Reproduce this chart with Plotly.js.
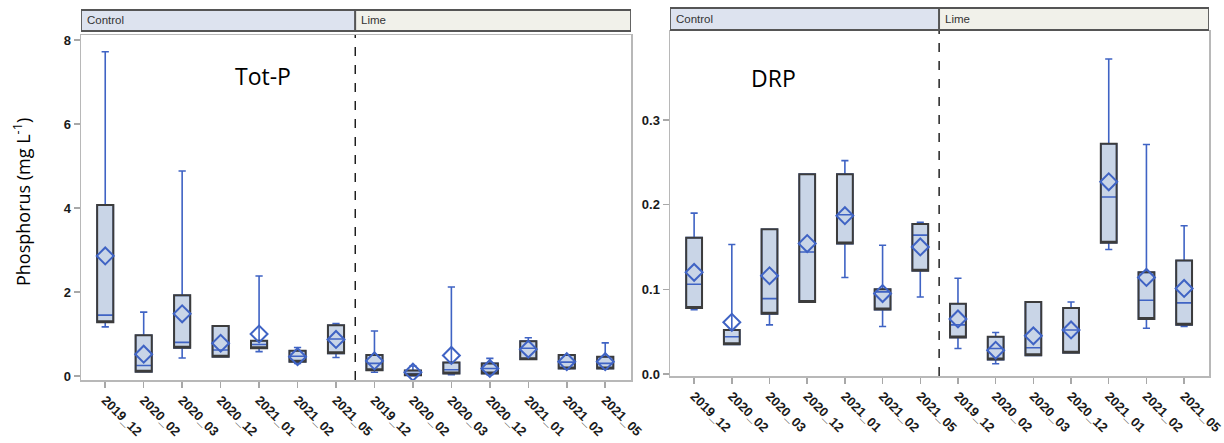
<!DOCTYPE html>
<html>
<head>
<meta charset="utf-8">
<script src="https://cdn.plot.ly/plotly-3.0.1.min.js"></script>
<style>
html,body{margin:0;padding:0;background:#fff;}
#chart{width:1224px;height:443px;}
</style>
</head>
<body>
<div id="chart"></div>
<script>
// ---- Data ----
var dates = ["2019_12","2020_02","2020_03","2020_12","2021_01","2021_02","2021_05"];
var treatments = ["Control","Lime"];

// Tot-P (mg L-1): Control then Lime
var totp_lower  = [1.17, 0.10, 0.43, 0.46, 0.58, 0.30, 0.44,   0.09, 0.00, 0.03, 0.03, 0.40, 0.17, 0.16];
var totp_q1     = [1.28, 0.10, 0.67, 0.46, 0.66, 0.34, 0.54,   0.14, 0.02, 0.06, 0.06, 0.40, 0.18, 0.18];
var totp_median = [1.45, 0.25, 0.80, 0.62, 0.75, 0.47, 0.88,   0.30, 0.06, 0.15, 0.18, 0.66, 0.33, 0.30];
var totp_q3     = [4.07, 0.97, 1.92, 1.19, 0.84, 0.60, 1.21,   0.50, 0.13, 0.32, 0.30, 0.83, 0.50, 0.46];
var totp_upper  = [7.72, 1.52, 4.88, 1.19, 2.38, 0.68, 1.25,   1.07, 0.24, 2.12, 0.42, 0.91, 0.50, 0.79];
var totp_mean   = [2.86, 0.52, 1.48, 0.78, 1.00, 0.46, 0.87,   0.36, 0.09, 0.49, 0.18, 0.64, 0.34, 0.34];

// DRP (mg L-1): Control then Lime
var drp_lower  = [0.076, 0.035, 0.058, 0.085, 0.114, 0.056, 0.091,   0.030, 0.012, 0.022, 0.025, 0.147, 0.054, 0.056];
var drp_q1     = [0.078, 0.035, 0.071, 0.085, 0.154, 0.076, 0.122,   0.043, 0.017, 0.022, 0.025, 0.155, 0.065, 0.058];
var drp_median = [0.106, 0.044, 0.089, 0.144, 0.188, 0.097, 0.164,   0.058, 0.030, 0.031, 0.052, 0.209, 0.087, 0.084];
var drp_q3     = [0.161, 0.052, 0.171, 0.236, 0.236, 0.100, 0.177,   0.083, 0.044, 0.085, 0.078, 0.272, 0.120, 0.134];
var drp_upper  = [0.190, 0.153, 0.171, 0.236, 0.252, 0.152, 0.179,   0.113, 0.049, 0.085, 0.085, 0.372, 0.271, 0.175];
var drp_mean   = [0.120, 0.061, 0.116, 0.154, 0.187, 0.095, 0.150,   0.065, 0.028, 0.045, 0.052, 0.227, 0.114, 0.101];

// ---- Build ----
var tickText = dates.concat(dates);
var xpos = tickText.map(function(_, i){ return i; });

var BLUE = '#3f63c4', GREY = '#3c3c3c', FILL = '#c9d5e7';

function boxTraces(lo, q1, med, q3, up, mean, xa, ya){
  var blue = {
    type:'box', x:xpos, q1:q1, median:med, q3:q3, lowerfence:lo, upperfence:up,
    xaxis:xa, yaxis:ya, width:0.42, whiskerwidth:0.45, boxpoints:false,
    fillcolor:FILL, line:{color:BLUE, width:1.6}, showlegend:false, hoverinfo:'skip'
  };
  var grey = {
    type:'box', x:xpos, q1:q1, median:q1, q3:q3, lowerfence:q1, upperfence:q3,
    xaxis:xa, yaxis:ya, width:0.42, whiskerwidth:0, boxpoints:false,
    fillcolor:'rgba(0,0,0,0)', line:{color:GREY, width:2}, showlegend:false, hoverinfo:'skip'
  };
  var m = {
    type:'scatter', mode:'markers', x:xpos, y:mean, xaxis:xa, yaxis:ya,
    marker:{symbol:'diamond-open', size:13, color:BLUE, line:{width:2, color:BLUE}},
    showlegend:false, hoverinfo:'skip'
  };
  return [blue, grey, m];
}

var data = boxTraces(totp_lower, totp_q1, totp_median, totp_q3, totp_upper, totp_mean, 'x', 'y')
  .concat(boxTraces(drp_lower, drp_q1, drp_median, drp_q3, drp_upper, drp_mean, 'x2', 'y2'));

var tickFont = {family:'"Liberation Sans", Arial, sans-serif', size:13, color:'#1a1a1a', weight:'bold'};
function xax(domain, range, anchor){
  return {domain:domain, range:range, anchor:anchor, tickvals:xpos, ticktext:tickText, tickangle:45,
    tickfont:tickFont, ticks:'outside', ticklen:6, tickcolor:'#a8a8a8', tickwidth:1.5,
    showline:true, linecolor:'#b8b8b8', linewidth:1.5, mirror:true, showgrid:false,
    zeroline:false, automargin:false, fixedrange:true};
}
function yax(domain, range, tv, fmt, anchor){
  return {domain:domain, range:range, anchor:anchor, tickvals:tv, tickformat:fmt, tickfont:tickFont,
    ticks:'outside', ticklen:6, tickcolor:'#a8a8a8', tickwidth:1.5,
    showline:true, linecolor:'#b8b8b8', linewidth:1.5, mirror:true, showgrid:false,
    zeroline:false, automargin:false, fixedrange:true};
}

var L = [-0.63, 13.67], R = [-0.64, 13.66];
var hdrL = [1-31/443, 1-10/443], hdrR = [1-30/443, 1-8/443];

var shapes = [
  {type:'line', xref:'x', yref:'y domain', x0:6.5, x1:6.5, y0:0, y1:1, line:{color:'#000', width:1.3, dash:'dash'}},
  {type:'line', xref:'x2', yref:'y2 domain', x0:6.5, x1:6.5, y0:0, y1:1, line:{color:'#000', width:1.3, dash:'dash'}},
  {type:'rect', xref:'x', yref:'paper', x0:L[0], x1:6.5, y0:hdrL[0], y1:hdrL[1], fillcolor:'#dde3ef', line:{color:'#555', width:1.8}},
  {type:'rect', xref:'x', yref:'paper', x0:6.5, x1:L[1], y0:hdrL[0], y1:hdrL[1], fillcolor:'#f1f1ea', line:{color:'#555', width:1.8}},
  {type:'rect', xref:'x2', yref:'paper', x0:R[0], x1:6.5, y0:hdrR[0], y1:hdrR[1], fillcolor:'#dde3ef', line:{color:'#555', width:1.8}},
  {type:'rect', xref:'x2', yref:'paper', x0:6.5, x1:R[1], y0:hdrR[0], y1:hdrR[1], fillcolor:'#f1f1ea', line:{color:'#555', width:1.8}}
];

var hdrFont = {family:'"Liberation Sans", Arial, sans-serif', size:11.5, color:'#333'};
var annotations = [
  {xref:'x', yref:'paper', x:L[0], y:(hdrL[0]+hdrL[1])/2, xanchor:'left', yanchor:'middle', xshift:4, text:treatments[0], showarrow:false, font:hdrFont},
  {xref:'x', yref:'paper', x:6.5, y:(hdrL[0]+hdrL[1])/2, xanchor:'left', yanchor:'middle', xshift:4, text:treatments[1], showarrow:false, font:hdrFont},
  {xref:'x2', yref:'paper', x:R[0], y:(hdrR[0]+hdrR[1])/2, xanchor:'left', yanchor:'middle', xshift:4, text:treatments[0], showarrow:false, font:hdrFont},
  {xref:'x2', yref:'paper', x:6.5, y:(hdrR[0]+hdrR[1])/2, xanchor:'left', yanchor:'middle', xshift:4, text:treatments[1], showarrow:false, font:hdrFont},
  {xref:'paper', yref:'paper', x:263/1224, y:1-76/443, xanchor:'center', yanchor:'middle', text:'Tot-P', showarrow:false, font:{family:'"Open Sans", sans-serif', size:23, color:'#000'}},
  {xref:'paper', yref:'paper', x:773/1224, y:1-78/443, xanchor:'center', yanchor:'middle', text:'DRP', showarrow:false, font:{family:'"Open Sans", sans-serif', size:23, color:'#000'}},
  {xref:'paper', yref:'paper', x:22/1224, y:1-202/443, xanchor:'center', yanchor:'middle', textangle:-90, text:'Phosphorus (mg L<sup>-1</sup>)', showarrow:false, font:{family:'"Open Sans", sans-serif', size:18, color:'#000'}}
];

var layout = {
  width:1224, height:443,
  margin:{l:0, r:0, t:0, b:0},
  paper_bgcolor:'#fff', plot_bgcolor:'#fff',
  showlegend:false, boxmode:'overlay',
  xaxis: xax([81/1224, 631/1224], L, 'y'),
  yaxis: yax([1-380/443, 1-35/443], [-0.095, 8.119], [0,2,4,6,8], 'd', 'x'),
  xaxis2: xax([670/1224, 1209/1224], R, 'y2'),
  yaxis2: yax([1-376/443, 1-31/443], [-0.0024, 0.4051], [0,0.1,0.2,0.3], '.1f', 'x2'),
  shapes:shapes, annotations:annotations
};

Plotly.newPlot('chart', data, layout, {displayModeBar:false, staticPlot:true});
</script>
</body>
</html>
